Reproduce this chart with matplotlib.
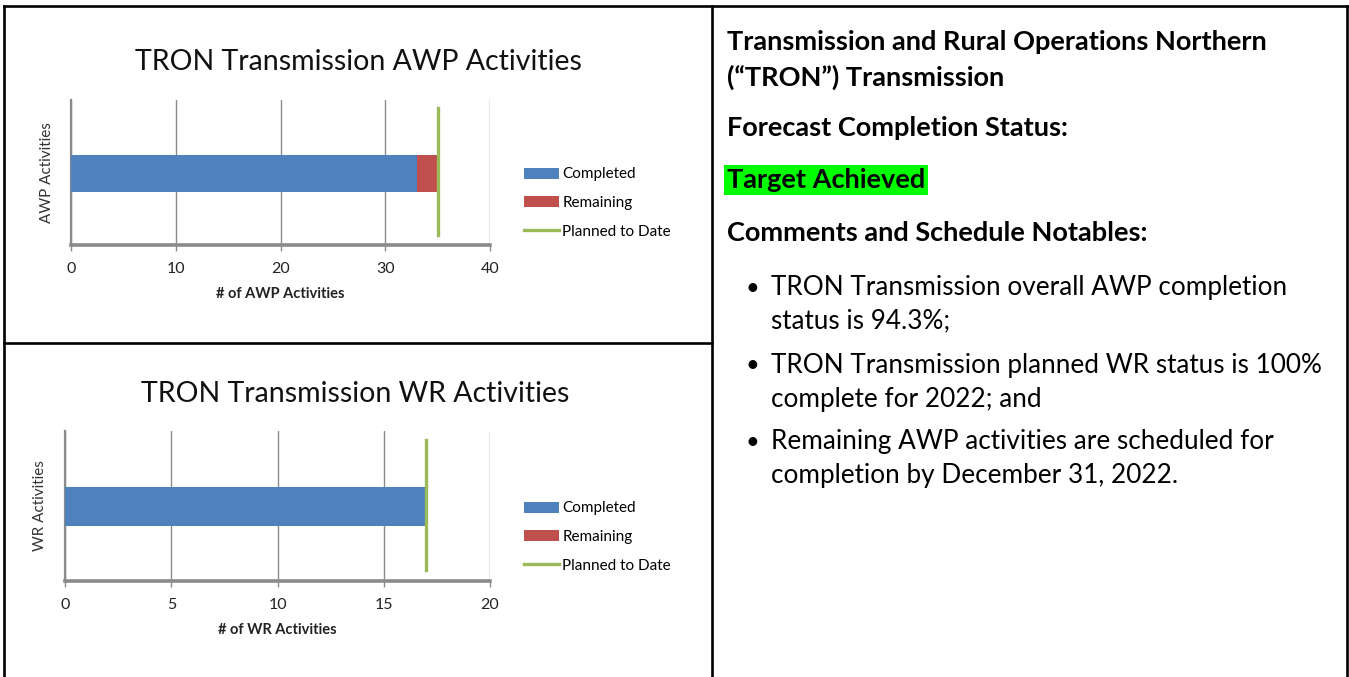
import matplotlib
matplotlib.use("Agg")
import matplotlib.pyplot as plt
from matplotlib.patches import Patch
from matplotlib.lines import Line2D

plt.rcParams['font.family'] = ['Lato', 'DejaVu Sans']

# chart data
awp_title = "TRON Transmission AWP Activities"
awp_completed = 33
awp_remaining = 2
awp_planned = 35
awp_ticks = [0, 10, 20, 30, 40]

wr_title = "TRON Transmission WR Activities"
wr_completed = 17
wr_remaining = 0
wr_planned = 17
wr_ticks = [0, 5, 10, 15, 20]

legend_labels = ["Completed", "Remaining", "Planned to Date"]

header_lines = ["Transmission and Rural Operations Northern",
                "(\u201cTRON\u201d) Transmission",
                "Forecast Completion Status:"]
status_text = "Target Achieved"
notes_title = "Comments and Schedule Notables:"
bullets = [["TRON Transmission overall AWP completion", "status is 94.3%;"],
           ["TRON Transmission planned WR status is 100%", "complete for 2022; and"],
           ["Remaining AWP activities are scheduled for", "completion by December 31, 2022."]]

BLUE = "#4F81BD"
RED = "#C0504D"
GREEN = "#9BBB59"
GRID = "#8a8a8a"

W, H = 1349, 677
fig = plt.figure(figsize=(W / 100, H / 100), dpi=100)


def fx(px):
    return px / W


def fy(py):
    return 1 - py / H


def chart(left, right, top, bottom, title, title_xy, completed, remaining, planned,
          ticks, xlabel, ylabel, ylabel_x, bar_frac, line_span, legend_y):
    ax = fig.add_axes([fx(left), fy(bottom), fx(right - left), (bottom - top) / H])
    ax.set_xlim(ticks[0], ticks[-1])
    ax.set_ylim(0, 1)
    ax.barh([bar_frac[0]], [completed], height=bar_frac[1], color=BLUE, zorder=3)
    ax.barh([bar_frac[0]], [remaining], left=[completed], height=bar_frac[1],
            color=RED, zorder=3)
    ax.axvline(planned, ymin=line_span[0], ymax=line_span[1], color=GREEN, lw=2.4, zorder=4)
    ax.set_xticks(ticks)
    ax.set_yticks([])
    ax.tick_params(axis='x', length=4, width=1, color=GRID, labelsize=11.5,
                   pad=8, labelcolor="#222222")
    ax.grid(axis='x', color=GRID, lw=1, zorder=0)
    for s in ['top', 'right']:
        ax.spines[s].set_visible(False)
    ax.spines['left'].set_color(GRID)
    ax.spines['left'].set_linewidth(1.6)
    ax.spines['bottom'].set_color(GRID)
    ax.spines['bottom'].set_linewidth(2.6)
    ax.set_xlabel(xlabel, fontsize=10.5, fontweight='bold', labelpad=8, color="#222222")
    fig.text(fx(title_xy[0]), fy(title_xy[1]), title, fontsize=20.5,
             ha='center', va='center', color="#111111")
    fig.text(fx(ylabel_x), fy((top + bottom) / 2), ylabel, rotation=90,
             fontsize=11, ha='center', va='center', color="#333333")
    handles = [Patch(facecolor=BLUE), Patch(facecolor=RED),
               Line2D([0], [0], color=GREEN, lw=2.4)]
    fig.legend(handles, legend_labels, loc='center left',
               bbox_to_anchor=(fx(524), fy(legend_y)), bbox_transform=fig.transFigure,
               frameon=False, fontsize=11, handlelength=2.3, handleheight=0.75,
               handletextpad=0.2, labelspacing=0.95, borderpad=0, borderaxespad=0)
    return ax


chart(71, 490, 100, 245, awp_title, (358, 62), awp_completed, awp_remaining, awp_planned,
      awp_ticks, "# of AWP Activities", "AWP Activities", 47,
      (0.493, 0.255), (0.07, 0.945), 203)
chart(65, 490, 431, 581, wr_title, (355, 394), wr_completed, wr_remaining, wr_planned,
      wr_ticks, "# of WR Activities", "WR Activities", 40,
      (0.497, 0.26), (0.073, 0.94), 537)

# right-hand text panel
tx = fx(727)
fsb = 19.5
fs = 18.8
fig.text(tx, fy(42), header_lines[0], fontsize=fsb, fontweight='bold', va='center')
fig.text(tx, fy(77), header_lines[1], fontsize=fsb, fontweight='bold', va='center')
fig.text(tx, fy(128), header_lines[2], fontsize=fsb, fontweight='bold', va='center')
fig.text(tx, fy(180), status_text, fontsize=fsb, fontweight='bold', va='center',
         bbox=dict(facecolor='#00FF00', edgecolor='none', boxstyle='square,pad=0.1'))
fig.text(tx, fy(233), notes_title, fontsize=fsb, fontweight='bold', va='center')

bullet_rows = [(287, 321), (365, 399), (442, 476)]
for lines, rows in zip(bullets, bullet_rows):
    fig.text(fx(752), fy(rows[0] + 1), "\u2022", fontsize=17, va='center', ha='center')
    for line, ry in zip(lines, rows):
        fig.text(fx(771), fy(ry), line, fontsize=fs, va='center')

# table borders
lw = 1.9
for xs, ys in [((4, 1347), (6, 6)), ((4, 4), (6, 677)), ((712, 712), (6, 677)),
               ((1347, 1347), (6, 677)), ((4, 712), (343, 343))]:
    fig.add_artist(Line2D([fx(xs[0]), fx(xs[1])], [fy(ys[0]), fy(ys[1])],
                          transform=fig.transFigure, color='black', lw=lw))

fig.savefig("out.png", dpi=100)
